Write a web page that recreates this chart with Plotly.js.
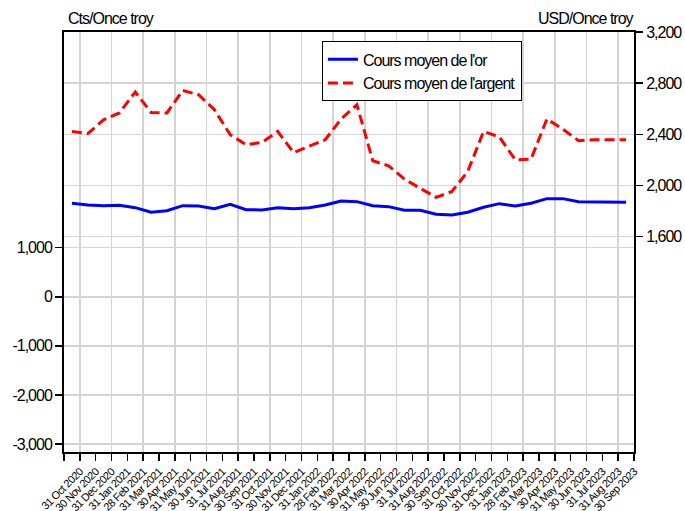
<!DOCTYPE html>
<html>
<head>
<meta charset="utf-8">
<script src="https://cdn.plot.ly/plotly-3.0.1.min.js"></script>
<style>
  html, body { margin: 0; padding: 0; background: #fff; }
  #chart { width: 685px; height: 511px; }
  text { letter-spacing: -1px; }
  .xtick text { letter-spacing: -0.6px; }
</style>
</head>
<body>
<div id="chart"></div>
<script>
const months = ['31 Oct 2020','30 Nov 2020','31 Dec 2020','31 Jan 2021','28 Feb 2021','31 Mar 2021','30 Apr 2021','31 May 2021','30 Jun 2021','31 Jul 2021','31 Aug 2021','30 Sep 2021','31 Oct 2021','30 Nov 2021','31 Dec 2021','31 Jan 2022','28 Feb 2022','31 Mar 2022','30 Apr 2022','31 May 2022','30 Jun 2022','31 Jul 2022','31 Aug 2022','30 Sep 2022','31 Oct 2022','30 Nov 2022','31 Dec 2022','31 Jan 2023','28 Feb 2023','31 Mar 2023','30 Apr 2023','31 May 2023','30 Jun 2023','31 Jul 2023','31 Aug 2023','30 Sep 2023'];

const goldName = "Cours moyen de l'or";
const gold = [1906,1871,1857,1865,1816,1722,1755,1857,1851,1796,1886,1776,1769,1816,1796,1816,1871,1953,1939,1857,1837,1763,1763,1682,1667,1722,1824,1898,1851,1906,2000,2000,1939,1933,1927,1927];

const silverName = "Cours moyen de l'argent";
const silver = [2423,2405,2514,2567,2731,2571,2567,2743,2710,2592,2397,2319,2337,2423,2258,2311,2358,2520,2631,2194,2154,2050,1980,1907,1953,2110,2423,2379,2201,2207,2520,2441,2350,2358,2358,2358];

const leftTicks = [-3000,-2000,-1000,0,1000];
const leftTickText = ['-3,000','-2,000','-1,000','0','1,000'];
const rightTicks = [1600,2000,2400,2800,3200];
const rightTickText = ['1,600','2,000','2,400','2,800','3,200'];

const leftTitle = 'Cts/Once troy';
const rightTitle = 'USD/Once troy';

const idx = months.map((m, i) => i);
const xRange = [-0.5, months.length - 0.5];
const tickPos = [-0.5].concat(idx.map(i => i + 0.5));
const tickLab = [''].concat(months);
const gridPos = idx.filter(i => i % 2 === 0 && i < months.length - 1).map(i => i + 0.5);

const FONT = 'Liberation Sans, Arial, sans-serif';
const GRID = '#d4d4d4';

const traces = [
  { x: idx, y: gold, name: goldName, type: 'scatter', mode: 'lines',
    xaxis: 'x', yaxis: 'y',
    line: { color: '#0000ff', width: 3 } },
  { x: idx, y: silver, name: silverName, type: 'scatter', mode: 'lines',
    xaxis: 'x2', yaxis: 'y2',
    line: { color: '#ff0000', width: 3, dash: '10px,5px' } }
];

const layout = {
  width: 685, height: 511,
  margin: { l: 64, r: 51, t: 32, b: 59, pad: 0 },
  paper_bgcolor: '#fff', plot_bgcolor: '#fff',
  font: { family: FONT, size: 16, color: '#000' },
  showlegend: true,
  legend: {
    x: 0.4525, y: 0.9776, xanchor: 'left', yanchor: 'top',
    bgcolor: '#fff', bordercolor: '#000', borderwidth: 1,
    font: { family: FONT, size: 16, color: '#000' },
    tracegroupgap: 0
  },
  xaxis: {
    range: xRange, tickmode: 'array', tickvals: tickPos, ticktext: tickLab,
    tickangle: -45, ticks: 'outside', ticklen: 7, tickwidth: 1.5, tickcolor: '#000',
    tickfont: { family: FONT, size: 11, color: '#000' },
    showgrid: false, zeroline: false,
    showline: true, linecolor: '#000', linewidth: 2, mirror: true
  },
  xaxis2: {
    range: xRange, overlaying: 'x', anchor: 'y',
    tickmode: 'array', tickvals: gridPos, showticklabels: false, ticks: '',
    showgrid: true, gridcolor: GRID, gridwidth: 1.5, zeroline: false, showline: false
  },
  yaxis: {
    range: [-3163, 5396], tickmode: 'array', tickvals: leftTicks, ticktext: leftTickText,
    ticks: 'outside', ticklen: 7, tickwidth: 1.5, tickcolor: '#000',
    tickfont: { family: FONT, size: 16, color: '#000' },
    showgrid: true, gridcolor: GRID, gridwidth: 1.5, zeroline: false,
    showline: true, linecolor: '#000', linewidth: 2
  },
  yaxis2: {
    range: [-83, 3200], overlaying: 'y', side: 'right', anchor: 'x',
    tickmode: 'array', tickvals: rightTicks, ticktext: rightTickText,
    ticks: 'outside', ticklen: 7, tickwidth: 1.5, tickcolor: '#000',
    tickfont: { family: FONT, size: 16, color: '#000' },
    showgrid: true, gridcolor: GRID, gridwidth: 1.5, zeroline: false,
    showline: true, linecolor: '#000', linewidth: 2
  },
  annotations: [
    { text: leftTitle, xref: 'paper', yref: 'paper', x: 0, y: 1,
      xanchor: 'left', yanchor: 'bottom', xshift: 2, yshift: 3, showarrow: false,
      font: { family: FONT, size: 16, color: '#000' } },
    { text: rightTitle, xref: 'paper', yref: 'paper', x: 1, y: 1,
      xanchor: 'right', yanchor: 'bottom', xshift: 2, yshift: 3, showarrow: false,
      font: { family: FONT, size: 16, color: '#000' } }
  ]
};

Plotly.newPlot('chart', traces, layout, { displayModeBar: false, staticPlot: true });
</script>
</body>
</html>
